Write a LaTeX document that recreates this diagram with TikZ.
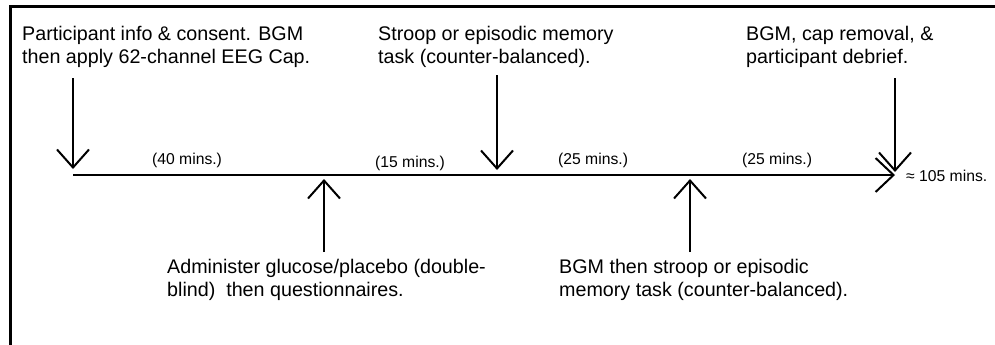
\documentclass[tikz,border=0pt]{standalone}
\usepackage{fontspec}
\setmainfont{Liberation Sans}
\usetikzlibrary{arrows.meta}

\begin{document}
\begin{tikzpicture}[x=1pt, y=-1pt,
    every node/.style={inner sep=0pt, align=left, font=\fontsize{19.7}{23.5}\selectfont},
    dur/.style={font=\fontsize{15.7}{18}\selectfont},
    pointer/.style={line width=2pt, -{Straight Barb[length=18pt, width=32pt, line width=2pt]}}]
    \useasboundingbox (0,0) rectangle (995,345);
    \draw[line width=3pt] (995,6.5) -- (10,6.5) -- (10,345);
    % time line
    \coordinate (t0) at (73,175);
    \coordinate (t5) at (895,175);
    \draw[line width=2.5pt, -{Straight Barb[length=18pt, width=34pt, line width=2pt]}] (t0) -- (t5);
    % steps above
    \node[anchor=north west] (1) at (22,26) {Participant info \& consent. BGM\\then apply 62-channel EEG Cap.};
    \node[anchor=north west] (2) at (378,26) {Stroop or episodic memory\\task (counter-balanced).};
    \node[anchor=north west] (3) at (746,26) {BGM, cap removal, \&\\participant debrief.};
    % steps below
    \node[anchor=north west] (4) at (167,259) {Administer glucose/placebo (double-\\blind)~ then questionnaires.};
    \node[anchor=north west] (5) at (559,259) {BGM then stroop or episodic\\memory task (counter-balanced).};
    % durations
    \node[dur, anchor=west] (6) at (152,160) {(40 mins.)};
    \node[dur, anchor=west] (7) at (375,163) {(15 mins.)};
    \node[dur, anchor=west] (8) at (558,160) {(25 mins.)};
    \node[dur, anchor=west] (9) at (742,160) {(25 mins.)};
    \node[dur, anchor=west] (10) at (906,176) {≈ 105 mins.};
    % pointers
    \foreach \n/\x/\ya/\yb in {1/73/78/169, 2/497/75/170, 3/895/78/172}{
        \coordinate (d\n) at (\x,\ya);
        \coordinate (e\n) at (\x,\yb);
        \draw[pointer] (d\n) -- (e\n);
    }
    \foreach \n/\x in {1/324, 2/690}{
        \coordinate (u\n) at (\x,252);
        \coordinate (v\n) at (\x,179);
        \draw[pointer] (u\n) -- (v\n);
    }
\end{tikzpicture}
\end{document}
